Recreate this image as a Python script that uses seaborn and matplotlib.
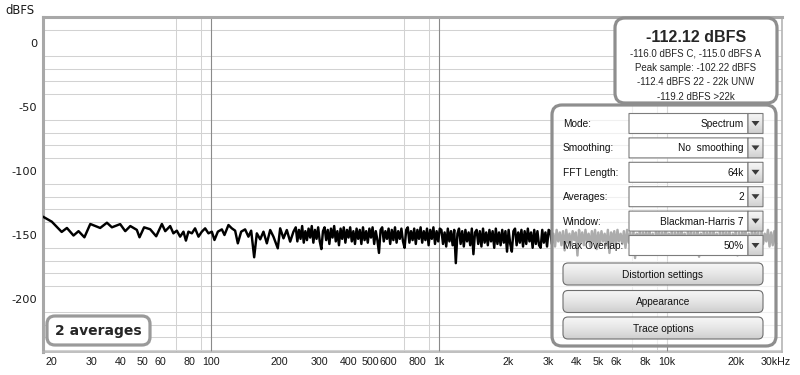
import numpy as np
import pandas as pd
import matplotlib
matplotlib.use("Agg")
import matplotlib.pyplot as plt
import seaborn as sns
from matplotlib.patches import FancyBboxPatch, Polygon
from matplotlib.ticker import LogLocator, MultipleLocator, NullFormatter
from matplotlib.colors import LinearSegmentedColormap

# ---------------- data ----------------
low_freq = [18.3, 20.0, 22.1, 23.3, 24.9, 26.2, 27.8, 29.5, 32.6, 34.9, 36.7,
            39.9, 42.0, 44.2, 47.2, 48.5, 50.8, 54.0, 57.4, 60.8, 62.9,
            66.1, 68.3, 70.7, 73.1, 75.6, 77.5, 79.5, 82.3, 85.0, 88.0, 91.0,
            94.1, 97.3, 100.7, 103.4, 107.0, 111.4, 114.4, 119.1, 123.2, 127.4,
            130.9, 135.4, 140.9, 145.7, 149.8, 154.4, 158.6, 164.1, 169.6, 175.5,
            181.5, 187.6, 196.0, 200.8, 207.6, 214.7, 222.1, 229.6]
low_db = [-135.7, -139.6, -147.6, -144.5, -150.4, -147.0, -151.8, -141.4, -144.5, -140.4, -144.0,
          -141.5, -147.0, -143.0, -146.0, -151.8, -144.0, -145.5, -151.0, -141.4, -147.0,
          -143.0, -148.7, -146.6, -151.3, -147.4, -154.4, -147.4, -148.7, -144.8, -151.3, -147.4,
          -144.8, -148.7, -147.4, -153.9, -147.4, -145.6, -150.0, -142.2, -144.8, -146.6,
          -156.5, -147.4, -145.6, -151.3, -146.6, -167.4, -148.7, -153.4, -147.4, -156.5,
          -146.1, -151.3, -160.4, -144.8, -152.6, -146.1, -155.2, -147.4]

# dense part of the spectrum, 235 Hz .. 30 kHz on the analyser's log grid
high_f_start, high_f_end = 235.0, 30000.0
high_db_a = [  # 235 Hz .. 1 kHz
    -144, -155, -146, -153, -143, -156, -147, -154, -145, -152, -143, -156, -146, -153, -144, -155,
    -161, -147, -144, -154, -146, -157, -145, -152, -143, -155, -147, -158, -145, -153, -144, -156,
    -146, -152, -144, -155, -147, -157, -145, -153, -146, -157, -144, -154, -147, -156, -145, -152,
    -144, -157, -147, -154, -164, -146, -144, -155, -147, -153, -145, -157, -146, -154, -144, -156,
    -147, -153, -145, -155, -160, -146, -144, -156, -147, -154, -145, -157, -146, -153, -144, -156,
    -147, -154, -145, -158, -146, -153, -144, -157, -147, -155, -145]
high_db_b = [  # 1 kHz .. 3 kHz
    -146, -157, -148, -159, -145, -155, -147, -158, -146, -172, -149, -145, -157, -147, -159, -146,
    -155, -148, -158, -145, -165, -148, -146, -157, -147, -159, -145, -156, -148, -158, -146, -155,
    -147, -160, -145, -157, -148, -158, -146, -156, -147, -163, -146, -157, -163, -147, -145, -158,
    -148, -156, -146, -159, -147, -157, -145, -155, -148, -160, -146, -157, -147, -158, -160, -146,
    -156, -148, -159, -146]
high_db_c = [  # 3 kHz .. 30 kHz
    -147, -157, -149, -159, -146, -155, -148, -158, -147, -162,
    -146, -156, -149, -158, -147, -154, -148, -166, -146, -156,
    -148, -158, -146, -155, -149, -159, -147, -156, -146, -161,
    -148, -157, -147, -155, -149, -158, -146, -164, -148, -156,
    -147, -159, -146, -155, -149, -157, -147, -160, -146, -156,
    -148, -158, -147, -168, -149, -156, -146, -158, -148, -155,
    -147, -159, -146, -157, -149, -162, -147, -156, -146, -158,
    -148, -155, -147, -165, -149, -157, -146, -159, -148, -156,
    -147, -158, -146, -155, -149, -161, -147, -157, -146, -159,
    -148, -156, -147, -167, -149, -157, -146, -158, -148, -155,
    -147, -160, -146, -156, -149, -158, -147, -163, -146, -157,
    -148, -155, -147, -159, -149, -156, -146, -166, -148, -158,
    -147, -155, -146, -160, -149, -157, -147, -159, -146, -156,
    -148, -162, -147, -157, -149, -155, -146, -159, -148, -158,
    -147, -157]

x_ticks = [20, 30, 40, 50, 60, 80, 100, 200, 300, 400, 500, 600, 800, 1000,
           2000, 3000, 4000, 5000, 6000, 8000, 10000, 20000, 30000]
x_tick_labels = ["20", "30", "40", "50", "60", "80", "100", "200", "300", "400", "500",
                 "600", "800", "1k", "2k", "3k", "4k", "5k", "6k", "8k", "10k", "20k", "30kHz"]
decades = [100, 1000, 10000]
y_ticks = [0, -50, -100, -150, -200]
y_tick_labels = ["0", "-50", "-100", "-150", "-200"]
y_unit = "dBFS"

info_title = "-112.12 dBFS"
info_lines = ["-116.0 dBFS C, -115.0 dBFS A", "Peak sample: -102.22 dBFS",
              "-112.4 dBFS 22 - 22k UNW", "-119.2 dBFS >22k"]
ctrl_labels = ["Mode:", "Smoothing:", "FFT Length:", "Averages:", "Window:", "Max Overlap:"]
ctrl_values = ["Spectrum", "No  smoothing", "64k", "2", "Blackman-Harris 7", "50%"]
button_labels = ["Distortion settings", "Appearance", "Trace options"]
avg_label = "2 averages"

# ---------------- figure ----------------
sns.set_style("white")
plt.rcParams['font.family'] = ['Liberation Sans', 'DejaVu Sans']

W, H = 800, 375
fig = plt.figure(figsize=(W / 100, H / 100), dpi=100)
fig.patch.set_facecolor("white")

ax_l, ax_r, ax_t, ax_b = 43, 782, 17, 352
ax = fig.add_axes([ax_l / W, (H - ax_b) / H, (ax_r - ax_l) / W, (ax_b - ax_t) / H])

high_db = high_db_a + high_db_b + high_db_c
freqs = np.concatenate([np.array(low_freq),
                        np.geomspace(high_f_start, high_f_end, len(high_db))])
levels = np.concatenate([np.array(low_db), np.array(high_db, dtype=float)])
df = pd.DataFrame({"freq": freqs, "level": levels})

sns.lineplot(data=df, x="freq", y="level", color="black", lw=1.75,
             estimator=None, sort=False, ax=ax, zorder=3)

ax.set_xscale("log")
ax.set_xlim(18.3, 31900)
ax.set_ylim(-241.4, 20.3)
ax.set_xlabel("")
ax.set_ylabel("")

ax.set_xticks(x_ticks, x_tick_labels)
ax.set_yticks(y_ticks, y_tick_labels)
ax.xaxis.set_minor_locator(LogLocator(base=10, subs=np.arange(1, 10), numticks=30))
ax.xaxis.set_minor_formatter(NullFormatter())
ax.yaxis.set_minor_locator(MultipleLocator(10))
ax.tick_params(which="both", length=0, labelcolor="#1a1a1a")
ax.tick_params(axis="x", pad=3.5, labelsize=7.7)
ax.tick_params(axis="y", pad=4, labelsize=8.2)
for lab in ax.get_yticklabels():
    lab.set_family(["DejaVu Sans"])

ax.set_axisbelow(True)
ax.grid(False)
ax.grid(which="minor", axis="both", color="#d2d2d2", lw=0.75)
for d in decades:
    ax.axvline(d, color="#8a8a8a", lw=0.8, zorder=1)
for s in ax.spines.values():
    s.set_color("#b4b4b4")
    s.set_linewidth(1.2)
ax.spines["left"].set_linewidth(2.2)
ax.spines["top"].set_linewidth(2.2)
ax.spines["left"].set_color("#a8a8a8")
ax.spines["top"].set_color("#a8a8a8")

fig.text(5 / W, 1 - 11 / H, y_unit, fontsize=8.4, color="#1a1a1a", ha="left", va="center",
         family=["DejaVu Sans"])

# ---------------- overlay in pixel coordinates ----------------
ov = fig.add_axes([0, 0, 1, 1], zorder=10)
ov.patch.set_alpha(0)
ov.axis("off")

def rbox(x0, y0, x1, y1, r, fc, ec, lw, z):
    p = FancyBboxPatch((x0, y0), x1 - x0, y1 - y0,
                       boxstyle=f"round,pad=0,rounding_size={r}",
                       fc=fc, ec=ec, lw=lw, zorder=z)
    ov.add_patch(p)
    return p

btn_cmap = LinearSegmentedColormap.from_list("btn", ["#f7f7f7", "#e6e6e6", "#cfcfcf"])
grad = np.linspace(0, 1, 64).reshape(-1, 1)

def gradient_box(x0, y0, x1, y1, r, ec, z):
    p = rbox(x0, y0, x1, y1, r, "none", ec, 0.8, z + 1)
    im = ov.imshow(grad, cmap=btn_cmap, extent=(x0, x1, y1, y0), aspect="auto",
                   zorder=z, interpolation="bilinear")
    im.set_clip_path(p)
    return p

# info box
rbox(615, 18, 777, 103, 10, "white", "#8e8e8e", 2.3, 2)
cx = (615 + 777) / 2
ov.text(cx, 37, info_title, fontsize=11.5, fontweight="bold", ha="center", va="center", zorder=5)
for i, t in enumerate(info_lines):
    ov.text(cx, 53 + 14.6 * i, t, fontsize=7, ha="center", va="center", zorder=5)

# control panel (semi-transparent)
rbox(552, 105, 776, 346, 10, (1, 1, 1, 0.68), "#8e8e8e", 2.3, 2)
for i, (lab, val) in enumerate(zip(ctrl_labels, ctrl_values)):
    cy = 123.5 + 24.4 * i
    ov.text(563, cy + 0.5, lab, fontsize=7.3, ha="left", va="center", zorder=5, color="#111111")
    rbox(629, cy - 10, 748, cy + 10, 0.1, "white", "#7c7c7c", 0.8, 3)
    ov.text(744, cy + 0.5, val, fontsize=7.3, ha="right", va="center", zorder=5, color="#111111")
    gradient_box(748, cy - 10, 763, cy + 10, 0.1, "#7c7c7c", 3)
    ov.add_patch(Polygon([[751.5, cy - 2.5], [759.5, cy - 2.5], [755.5, cy + 2.5]],
                         closed=True, fc="#3a3a3a", ec="none", zorder=6))

btn_tops = [263, 290.5, 317]
for top, lab in zip(btn_tops, button_labels):
    gradient_box(563, top, 763, top + 22, 5, "#6e6e6e", 3)
    ov.text(663, top + 11.5, lab, fontsize=7.3, ha="center", va="center", zorder=6, color="#111111")

# averages badge
rbox(47, 316, 150, 345, 8, "white", "#9a9a9a", 2.3, 2)
ov.text(98.5, 330.5, avg_label, fontsize=10, fontweight="bold", ha="center", va="center",
        zorder=5, family=["DejaVu Sans"])

ov.set_xlim(0, W)
ov.set_ylim(H, 0)

fig.savefig("out.png", dpi=100)
